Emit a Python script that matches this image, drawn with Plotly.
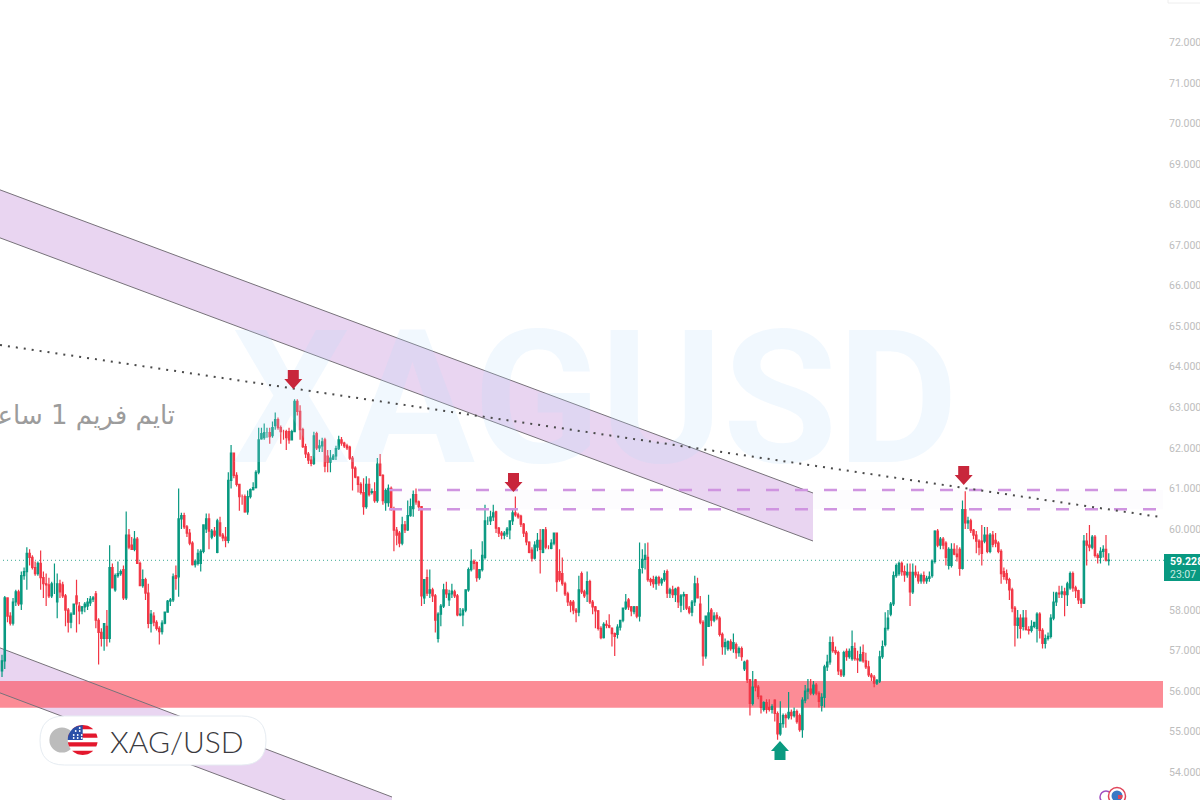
import math
import plotly.graph_objects as go

opens = [
56.5,56.75,58.3,57.85,57.68,58.2,58.45,58.15,58.85,58.95,
59.4,59.3,59.05,58.9,59.15,58.8,58.65,58.62,58.35,58.65,
58.2,58.65,58.62,58.35,58.0,57.7,57.9,58.35,58.1,57.98,
58.08,58.1,58.18,58.27,58.4,57.75,57.45,57.3,57.6,57.3,
59.05,58.5,58.85,58.9,59.0,58.3,59.85,59.6,59.5,59.75,
59.15,58.6,58.75,58.42,57.67,57.85,57.7,57.55,57.47,57.68,
57.95,58.22,58.25,58.85,58.82,60.25,60.33,60.05,59.9,59.65,
59.12,59.15,59.15,59.45,60.0,60.25,59.8,59.95,59.42,60.15,
59.85,59.8,59.72,61.2,61.87,61.32,61.1,60.8,60.8,60.42,
60.8,60.97,61.02,61.4,62.22,62.25,62.38,62.38,62.3,62.55,
62.7,62.5,62.4,62.4,62.4,62.2,62.4,63.15,62.9,62.45,
62.03,61.85,61.7,61.62,62.35,62.0,62.05,62.2,61.8,61.65,
61.72,61.8,61.98,62.2,62.12,62.05,62.02,61.75,61.5,61.28,
61.1,60.9,60.55,61.1,60.9,60.92,60.7,61.6,61.32,60.65,
60.65,61.0,60.5,59.97,59.9,59.65,60.1,59.98,60.33,60.5,
60.85,60.67,60.55,58.3,58.8,58.42,58.5,58.35,57.3,57.9,
58.1,58.5,58.25,58.4,58.45,58.35,57.88,57.88,58.0,58.5,
59.0,59.2,59.17,58.8,59.0,59.3,60.2,60.2,60.3,60.42,
60.02,59.9,59.85,59.88,59.98,60.2,60.4,60.35,60.32,60.12,
59.9,59.68,59.48,59.28,59.55,59.72,59.42,59.98,59.55,59.52,
59.65,59.9,58.95,58.9,58.65,58.4,58.2,58.2,58.0,57.95,
58.9,58.45,58.4,58.7,58.2,58.08,57.98,57.55,57.32,57.65,
57.62,57.55,57.42,57.4,57.58,57.75,58.05,58.25,58.08,57.96,
58.08,57.85,59.05,59.25,59.3,58.75,58.75,58.65,58.8,58.67,
58.75,58.95,58.42,58.5,58.38,58.55,58.12,58.35,58.38,58.05,
57.95,58.2,58.65,58.15,57.7,56.87,57.6,58.0,57.75,57.87,
57.8,57.4,57.1,57.05,57.22,57.05,57.15,56.95,57.05,56.55,
56.75,56.28,55.7,56.28,56.1,55.87,55.55,55.72,55.6,55.55,
55.78,55.45,54.95,55.2,55.4,55.35,55.48,55.4,55.5,55.4,
55.05,55.78,56.0,56.05,55.95,56.15,55.95,55.65,55.85,56.6,
56.72,57.2,57.0,56.95,56.5,56.4,56.98,56.85,56.8,57.05,
56.8,56.75,56.95,56.75,56.6,56.4,56.35,56.2,56.25,56.85,
57.15,57.55,57.9,58.15,58.85,58.9,59.15,58.95,58.87,58.93,
58.45,58.93,58.87,58.72,58.85,58.72,58.78,58.85,59.2,59.95,
59.6,59.75,59.65,59.1,59.1,59.5,59.38,59.5,59.03,60.48,
60.15,60.2,59.97,59.85,59.7,59.7,59.7,59.85,59.45,59.85,
59.72,59.65,59.45,58.95,58.9,58.75,58.5,58.05,57.62,57.8,
57.6,57.8,57.52,57.5,57.6,57.55,57.9,57.5,57.18,57.3,
57.35,57.8,58.2,58.42,58.4,58.45,58.38,58.55,58.9,58.55,
58.48,58.25,58.17,59.7,59.6,59.55,59.8,59.35,59.3,59.45,
59.5,59.22]

highs = [
56.9,58.35,58.3,57.95,58.3,58.5,58.5,58.95,59.05,59.55,
59.5,59.35,59.2,59.2,59.47,58.95,58.9,58.8,58.7,59.15,
58.9,58.75,58.7,58.4,58.05,57.95,58.15,58.75,58.2,58.1,
58.2,58.3,58.35,58.35,58.47,57.8,57.55,57.65,58.0,59.6,
59.15,58.9,59.2,59.0,59.1,60.43,60.0,59.8,59.95,59.8,
59.2,59.0,58.8,58.65,58.0,57.95,57.75,57.6,57.75,57.95,
58.25,58.3,58.9,59.1,61.0,60.4,60.4,60.1,60.0,59.7,
59.25,59.5,59.5,60.1,60.38,60.38,60.0,60.05,60.25,60.3,
59.9,60.05,61.4,62.07,61.87,61.4,61.1,60.85,60.85,60.95,
61.0,61.15,61.45,62.5,62.5,62.6,62.5,62.5,62.65,62.87,
62.75,62.55,62.45,62.45,62.5,62.45,63.2,63.2,63.05,62.5,
62.1,61.9,61.8,62.4,62.4,62.2,62.25,62.25,61.95,61.95,
61.85,62.05,62.3,62.27,62.15,62.1,62.05,61.8,61.55,61.3,
61.15,61.25,61.3,61.25,61.0,61.15,61.75,61.85,61.35,61.0,
61.1,61.05,60.55,60.05,59.95,60.3,60.2,60.7,60.75,60.95,
61.0,60.7,60.55,58.75,59.0,59.0,58.55,58.4,57.95,58.15,
58.65,58.7,58.5,58.65,58.5,58.4,58.05,58.05,58.5,59.05,
59.5,59.25,59.2,59.0,59.7,60.6,60.3,60.45,60.6,60.45,
60.05,59.95,59.95,60.05,60.2,60.5,60.8,60.4,60.35,60.15,
59.95,59.7,59.55,59.7,59.9,60.0,60.0,60.05,59.6,59.75,
59.9,59.9,59.5,59.3,58.7,58.45,58.25,58.25,58.05,58.85,
58.95,58.5,58.95,58.75,58.25,58.1,58.0,57.6,57.7,57.75,
57.9,57.58,57.45,57.65,57.75,58.05,58.4,58.3,58.1,58.1,
58.1,59.67,59.5,59.65,59.67,58.8,58.85,58.85,58.85,58.8,
58.98,59.0,58.55,58.6,58.55,58.58,58.4,58.45,58.4,58.1,
58.25,58.85,58.8,58.35,57.75,57.85,58.38,58.05,57.95,57.95,
57.85,57.45,57.3,57.25,57.28,57.42,57.2,57.1,57.1,56.75,
56.78,56.3,56.5,56.3,56.15,55.9,55.75,55.8,55.8,55.68,
55.8,55.5,55.75,55.45,55.45,55.98,55.55,55.6,55.55,55.45,
55.85,56.15,56.3,56.3,56.25,56.2,56.0,55.95,56.65,56.9,
57.35,57.35,57.1,57.0,56.55,57.0,57.05,57.05,57.5,57.2,
57.0,57.1,57.15,56.95,56.75,56.45,56.4,56.3,57.0,57.25,
57.95,58.0,58.2,58.95,59.15,59.2,59.2,59.1,59.15,59.15,
59.15,59.1,58.95,58.9,58.95,58.85,58.95,59.25,59.97,60.0,
59.8,59.8,59.7,59.55,59.65,59.65,59.6,59.55,60.7,60.93,
60.3,60.25,60.0,59.95,59.75,60.1,60.05,60.05,59.9,59.95,
59.9,59.7,59.5,59.05,59.0,58.8,58.55,58.1,58.0,57.9,
58.0,58.0,57.6,57.75,57.7,57.95,57.95,57.55,57.4,57.45,
57.9,58.45,58.45,58.6,58.6,58.55,58.7,58.95,58.95,58.6,
58.5,58.3,59.85,59.9,60.1,59.85,59.85,59.4,59.55,59.6,
59.85,59.4]

lows = [
56.35,56.55,57.7,57.62,57.62,58.1,58.1,58.0,58.75,58.5,
59.1,59.0,58.85,58.85,58.5,58.3,58.1,58.3,58.3,58.4,
57.8,58.3,58.3,57.6,57.45,57.55,57.9,57.45,57.65,57.9,
57.95,58.0,58.1,58.2,57.55,56.66,57.1,57.0,57.1,57.2,
58.55,58.45,58.8,58.85,58.25,58.25,59.5,59.5,59.45,59.15,
58.6,58.55,58.25,57.55,57.45,57.6,57.5,57.15,57.4,57.65,
57.95,58.1,58.2,58.5,58.33,60.0,60.0,59.8,59.6,59.1,
59.05,59.1,58.95,59.4,59.9,59.5,59.75,59.8,59.4,59.8,
59.7,59.55,59.65,61.0,61.25,61.05,60.45,60.6,60.4,60.35,
60.75,60.95,61.0,61.35,62.2,62.2,62.25,62.1,62.25,62.45,
62.45,62.1,62.2,61.95,62.1,62.2,62.4,62.8,62.2,62.0,
61.75,61.6,61.55,61.58,61.95,61.9,61.9,61.4,61.4,61.4,
61.7,61.7,61.95,62.05,62.0,61.95,61.7,60.95,61.25,60.9,
60.85,60.35,60.5,60.8,60.85,60.65,60.65,61.3,60.6,60.45,
60.55,60.45,59.45,59.6,59.55,59.6,59.9,59.95,60.3,60.3,
60.6,60.45,58.1,58.15,58.35,58.3,58.2,57.45,57.2,57.6,
58.05,58.3,58.1,58.3,58.3,57.85,57.85,57.6,57.95,58.45,
58.95,59.0,58.7,58.75,58.95,59.25,60.1,60.1,60.2,59.9,
59.8,59.75,59.75,59.8,59.75,60.1,60.3,60.25,60.05,59.8,
59.6,59.4,59.2,59.25,59.45,58.9,59.4,59.5,59.5,59.5,
59.6,58.45,58.7,58.6,58.35,58.1,57.95,57.9,57.7,57.85,
58.4,58.3,58.2,58.15,57.9,57.55,57.5,57.28,57.3,57.55,
57.55,57.1,56.87,57.3,57.5,57.7,58.0,58.0,57.85,57.9,
57.8,57.72,58.9,59.0,58.7,58.6,58.55,58.5,58.6,58.6,
58.7,58.3,58.3,58.3,58.2,58.05,57.95,58.0,58.0,57.9,
57.85,58.1,58.3,57.65,56.63,56.8,57.6,57.6,57.7,57.75,
57.35,56.9,56.9,57.0,57.0,56.95,56.8,56.85,56.75,56.5,
56.2,55.4,55.65,56.0,55.8,55.45,55.5,55.45,55.5,55.45,
55.25,54.8,54.9,55.1,55.1,55.3,55.3,55.35,55.2,55.0,
54.85,55.7,55.8,55.9,55.9,55.9,55.6,55.5,55.6,56.5,
56.65,56.95,56.9,56.4,56.35,56.35,56.75,56.8,56.75,56.75,
56.45,56.75,56.7,56.55,56.35,56.25,56.1,56.15,56.2,56.8,
57.1,57.5,57.85,58.1,58.8,58.85,58.85,58.7,58.8,58.1,
58.4,58.8,58.65,58.65,58.65,58.65,58.7,58.8,59.15,59.55,
59.5,59.5,59.1,59.0,59.05,59.35,59.2,58.85,59.0,60.0,
60.0,59.9,59.75,59.4,59.35,59.1,59.65,59.4,59.4,59.55,
59.55,59.4,58.65,58.75,58.65,58.25,57.95,57.1,57.3,57.3,
57.5,57.5,57.4,57.45,57.55,57.2,57.3,57.05,57.05,57.25,
57.3,57.75,58.1,58.3,58.3,57.85,58.1,58.5,58.45,58.3,
58.15,58.05,58.15,59.1,59.45,59.5,59.3,59.15,59.15,59.3,
59.2,59.1]

closes = [
56.75,58.3,57.85,57.68,58.2,58.45,58.15,58.85,58.95,59.4,
59.3,59.05,58.9,59.15,58.8,58.65,58.62,58.35,58.65,58.65,
58.65,58.45,58.35,58.0,57.7,57.9,58.15,58.15,57.98,58.08,
58.15,58.2,58.27,58.3,57.75,57.45,57.3,57.67,57.3,59.05,
58.55,58.85,58.9,58.95,58.3,59.85,59.55,59.5,59.75,59.15,
58.6,58.75,58.42,57.67,57.9,57.7,57.55,57.47,57.68,57.95,
58.22,58.25,58.82,58.78,60.25,60.33,60.05,59.9,59.65,59.12,
59.2,59.4,59.45,60.1,60.25,59.95,59.95,59.85,60.2,59.85,
59.78,59.72,61.2,61.87,61.32,61.1,60.8,60.8,60.42,60.8,
60.97,61.02,61.4,62.2,62.35,62.38,62.38,62.28,62.5,62.7,
62.5,62.4,62.4,62.25,62.2,62.4,63.15,62.9,62.45,62.03,
61.85,61.7,61.62,62.3,62.0,62.05,62.15,61.55,61.65,61.75,
61.8,61.98,62.2,62.12,62.05,62.0,61.75,61.5,61.28,61.1,
60.9,60.55,61.1,60.85,60.92,60.7,61.6,61.32,60.7,60.95,
61.0,60.5,59.97,59.85,59.65,60.1,59.98,60.33,60.55,60.85,
60.67,60.55,58.35,58.75,58.42,58.5,58.35,57.75,57.9,58.1,
58.5,58.4,58.4,58.47,58.35,57.88,57.9,58.0,58.5,59.0,
59.2,59.15,58.8,59.0,59.35,60.2,60.2,60.3,60.4,60.02,
59.9,59.85,59.9,60.0,60.2,60.4,60.35,60.3,60.12,59.9,
59.68,59.42,59.28,59.6,59.72,59.5,59.98,59.55,59.55,59.65,
59.9,58.7,58.75,58.65,58.4,58.2,58.12,58.0,57.95,58.5,
58.45,58.35,58.7,58.2,58.08,57.98,57.55,57.32,57.65,57.62,
57.58,57.42,57.35,57.58,57.75,58.05,58.2,58.08,57.98,58.08,
57.85,59.0,59.25,59.35,58.75,58.7,58.65,58.8,58.67,58.75,
58.9,58.42,58.5,58.38,58.52,58.2,58.35,58.38,58.05,57.95,
58.2,58.65,58.3,57.7,56.87,57.85,57.93,57.75,57.85,57.8,
57.4,57.1,57.2,57.23,57.05,57.2,56.95,57.05,56.85,56.72,
56.28,55.7,56.1,56.1,55.87,55.6,55.72,55.55,55.55,55.62,
55.45,54.95,55.2,55.4,55.35,55.48,55.4,55.5,55.25,55.05,
55.78,56.0,56.05,55.95,56.15,55.95,55.75,55.85,56.6,56.72,
57.2,57.0,56.95,56.5,56.4,56.95,56.85,56.98,57.1,56.8,
56.77,56.9,56.75,56.6,56.4,56.35,56.2,56.27,56.85,57.1,
57.55,57.8,58.15,58.85,59.1,59.15,58.95,58.87,58.93,58.45,
58.93,58.87,58.72,58.85,58.72,58.78,58.82,59.2,59.95,59.6,
59.75,59.6,59.3,59.5,59.5,59.38,59.32,59.03,60.48,60.15,
60.2,59.97,59.85,59.7,59.55,59.4,59.85,59.45,59.85,59.62,
59.65,59.45,58.9,58.83,58.75,58.5,58.05,57.63,57.8,57.55,
57.8,57.52,57.5,57.6,57.7,57.9,57.5,57.18,57.3,57.35,
57.8,58.2,58.42,58.4,58.45,58.38,58.65,58.9,58.55,58.48,
58.25,58.17,59.7,59.6,59.55,59.8,59.35,59.3,59.45,59.5,
59.23,59.23]

y_ticks = [54, 55, 56, 57, 58, 60, 61, 62, 63, 64, 65, 66, 67, 68, 69, 70, 71, 72]
y_tick_labels = ["%.3f" % v for v in y_ticks]

last_price = 59.228
last_price_label = "59.228"
countdown_label = "23:07"
support_low, support_high = 55.59, 56.25
resistance_low, resistance_high = 60.49, 60.96
symbol_label = "XAG/USD"
watermark_label = "XAGUSD"
timeframe_label = "تایم فریم 1 ساعت"

n = min(len(opens), len(highs), len(lows), len(closes))
candle_index = list(range(n))

# view geometry: the picture's candle spacing and price scale
W, H, PLOT_W = 1200, 800, 1168
STEP, X0 = 2.76, 2.0
PX_PER_UNIT, Y60 = 40.55, 529.0


def X(px):
    return (px - X0) / STEP


def Y(py):
    return 60 + (Y60 - py) / PX_PER_UNIT


def PX(px):
    return px / PLOT_W


def PY(py):
    return 1 - py / H


def poly(points):
    return "M " + " L ".join(f"{PX(a):.5f},{PY(b):.5f}" for a, b in points) + " Z"


def data_poly(points):
    return "M " + " L ".join(f"{X(a):.4f},{Y(b):.4f}" for a, b in points) + " Z"


shapes = []


def add_paper(path, fill, line=None, lw=0, layer="above"):
    shapes.append(dict(type="path", xref="paper", yref="paper", path=path, fillcolor=fill,
                       line=dict(color=line or "rgba(0,0,0,0)", width=lw), layer=layer))


def circle(cx, cy, r, fill, line=None, lw=0):
    shapes.append(dict(type="circle", xref="paper", yref="paper", x0=PX(cx - r), x1=PX(cx + r),
                       y0=PY(cy + r), y1=PY(cy - r), fillcolor=fill,
                       line=dict(color=line or "rgba(0,0,0,0)", width=lw), layer="above"))


def disc_band(cx, cy, r, x_min, x_max, y_min, y_max, fill):
    left, right = [], []
    steps = 10
    for k in range(steps + 1):
        y = y_min + (y_max - y_min) * k / steps
        half = math.sqrt(max(r * r - (y - cy) ** 2, 0))
        left.append((max(cx - half, x_min), y))
        right.append((min(cx + half, x_max), y))
    add_paper(poly(left + right[::-1]), fill)


CHANNEL = "#e9d5f1"
CHANNEL_LINE = "#77727a"

# faint band between the dashed levels
shapes.append(dict(type="rect", xref="x", yref="y", x0=X(392), x1=X(1163), y0=resistance_low, y1=resistance_high,
                   fillcolor="#fdfcfe", line_width=0, layer="below"))
# upper channel
shapes.append(dict(type="path", xref="x", yref="y", path=data_poly([(-5, 188), (813, 493), (813, 541), (-5, 236)]),
                   fillcolor=CHANNEL, line_width=0, layer="below"))
for a, b, c, d in [(-5, 188, 813, 493), (-5, 236, 813, 541)]:
    shapes.append(dict(type="line", xref="x", yref="y", x0=X(a), y0=Y(b), x1=X(c), y1=Y(d),
                       line=dict(color=CHANNEL_LINE, width=1), layer="below"))
# lower channel
shapes.append(dict(type="path", xref="x", yref="y", path=data_poly([(-5, 646), (392, 797), (392, 802), (290, 802), (-5, 691)]),
                   fillcolor=CHANNEL, line_width=0, layer="below"))
# support zone
shapes.append(dict(type="rect", xref="x", yref="y", x0=X(-5), x1=X(1163), y0=support_low, y1=support_high,
                   fillcolor="rgba(250,85,100,0.68)", line_width=0, layer="below"))
for a, b, c, d in [(-5, 646, 392, 797), (-5, 691, 290, 802)]:
    shapes.append(dict(type="line", xref="x", yref="y", x0=X(a), y0=Y(b), x1=X(c), y1=Y(d),
                       line=dict(color=CHANNEL_LINE, width=1), layer="below"))
# dashed resistance levels
for lvl in (resistance_low, resistance_high):
    shapes.append(dict(type="line", xref="x", yref="y", x0=X(389), x1=X(1158), y0=lvl, y1=lvl,
                       line=dict(color="#cf94e0", width=2.5, dash="13px,16px"), layer="above"))
# last price line
shapes.append(dict(type="line", xref="x", yref="y", x0=X(-5), x1=X(1166), y0=last_price, y1=last_price,
                   line=dict(color="#3aa893", width=1, dash="1px,3px"), layer="below"))
# falling dotted trend line
shapes.append(dict(type="line", xref="x", yref="y", x0=X(0), y0=Y(345), x1=X(1160), y1=Y(517),
                   line=dict(color="#4a4a4a", width=2, dash="2px,6px"), layer="above"))


def arrow(tip_x, tip_y, direction, fill):
    s = direction
    pts = [(tip_x, tip_y), (tip_x + 9, tip_y - s * 10), (tip_x + 5.5, tip_y - s * 10),
           (tip_x + 5.5, tip_y - s * 19), (tip_x - 5.5, tip_y - s * 19), (tip_x - 5.5, tip_y - s * 10),
           (tip_x - 9, tip_y - s * 10)]
    add_paper(poly(pts), fill)


arrow(293.3, 389, 1, "#c8263b")
arrow(513.5, 492, 1, "#c8263b")
arrow(963.7, 485, 1, "#c8263b")
arrow(780, 741, -1, "#0a9a80")

# price label box
shapes.append(dict(type="rect", xref="paper", yref="paper", x0=PX(1164), x1=PX(1200), y0=PY(581), y1=PY(554),
                   fillcolor="#089981", line_width=0, layer="above"))
# faint box at the top right
shapes.append(dict(type="rect", xref="paper", yref="paper", x0=PX(1168), x1=PX(1205), y0=PY(3), y1=PY(-3),
                   fillcolor="#ffffff", line=dict(color="#eeeeee", width=1), layer="above"))

# symbol pill
px0, px1, py0, py1, rr = 40, 266, 716, 765, 24.5
pill = (f"M {PX(px0 + rr)},{PY(py0)} L {PX(px1 - rr)},{PY(py0)} "
        f"Q {PX(px1)},{PY(py0)} {PX(px1)},{PY(py0 + rr)} Q {PX(px1)},{PY(py1)} {PX(px1 - rr)},{PY(py1)} "
        f"L {PX(px0 + rr)},{PY(py1)} Q {PX(px0)},{PY(py1)} {PX(px0)},{PY(py0 + rr)} "
        f"Q {PX(px0)},{PY(py0)} {PX(px0 + rr)},{PY(py0)} Z")
add_paper(pill, "#ffffff", "#e6ecf2", 1)

# coin and flag
circle(62, 740, 12.6, "#bcbcbc")
FX, FY, FR = 82.7, 740, 15
circle(FX, FY, FR, "#ffffff")
stripe_h = 2 * FR / 7
for k in range(0, 7, 2):
    disc_band(FX, FY, FR, FX - FR, FX + FR, FY - FR + k * stripe_h, FY - FR + (k + 1) * stripe_h, "#e3182d")
disc_band(FX, FY, FR, FX - FR, FX, FY - FR, FY, "#2a4fa8")
for dx, dy in [(-9, -5), (-5, -5), (-1, -5), (-7, -9), (-3, -9), (-9, -2), (-5, -2), (-1, -2), (-3, -12)]:
    circle(FX + dx, FY + dy, 0.9, "#ffffff")

# small logo, bottom right
circle(1106, 797, 6, "#ffffff", "#a04fc0", 1.5)
circle(1117, 796, 8.5, "#ffffff", "#e0455a", 1.5)
circle(1117, 796, 5.5, "#3b78c4")
disc_band(1117, 796, 5.5, 1118, 1124, 795, 799, "#e0455a")

annotations = [
    dict(xref="x", yref="y", x=X(177), y=Y(415), text=timeframe_label, showarrow=False, xanchor="right", yanchor="middle",
         font=dict(family="DejaVu Sans", size=26, color="#9c9c9c")),
    dict(xref="paper", yref="paper", x=PX(108), y=PY(741), text=symbol_label, showarrow=False, xanchor="left", yanchor="middle",
         font=dict(family="Lato", size=30, color="#3a3a40", weight=300)),
    dict(xref="paper", yref="paper", x=PX(1170), y=PY(561.5), text=f"<b>{last_price_label}</b>", showarrow=False, xanchor="left",
         yanchor="middle", xshift=-2, font=dict(family="Roboto", size=10.5, color="#ffffff")),
    dict(xref="paper", yref="paper", x=PX(1170), y=PY(574), text=countdown_label, showarrow=False, xanchor="left",
         yanchor="middle", xshift=-2, font=dict(family="Roboto", size=10.5, color="#c9ebe3")),
]

fig = go.Figure()
fig.add_trace(go.Scatter(x=[X(595)], y=[Y(415)], mode="text", text=[f"<b>{watermark_label}</b>"], textposition="middle center",
                         textfont=dict(family="Roboto", size=186, color="rgba(185,222,250,0.2)"),
                         hoverinfo="skip", showlegend=False))
fig.add_trace(go.Candlestick(
    x=candle_index, open=opens[:n], high=highs[:n], low=lows[:n], close=closes[:n],
    increasing=dict(line=dict(color="#089981", width=1.2), fillcolor="#089981"),
    decreasing=dict(line=dict(color="#f23645", width=1.2), fillcolor="#f23645"),
    whiskerwidth=0, showlegend=False,
))

fig.update_layout(
    width=W, height=H, margin=dict(l=0, r=W - PLOT_W, t=0, b=0),
    paper_bgcolor="#ffffff", plot_bgcolor="#ffffff", showlegend=False,
    shapes=shapes, annotations=annotations,
    xaxis=dict(range=[X(0), X(PLOT_W)], visible=False, rangeslider=dict(visible=False), type="linear", showgrid=False),
    yaxis=dict(range=[Y(H), Y(0)], side="right", tickvals=y_ticks, ticktext=y_tick_labels, showgrid=False, zeroline=False,
               showline=False, ticks="", tickfont=dict(family="Roboto", size=10.5, color="#bdbdbd")),
)

fig.write_html("out.html", config=dict(displayModeBar=False), post_script="document.body.style.margin='0';")
